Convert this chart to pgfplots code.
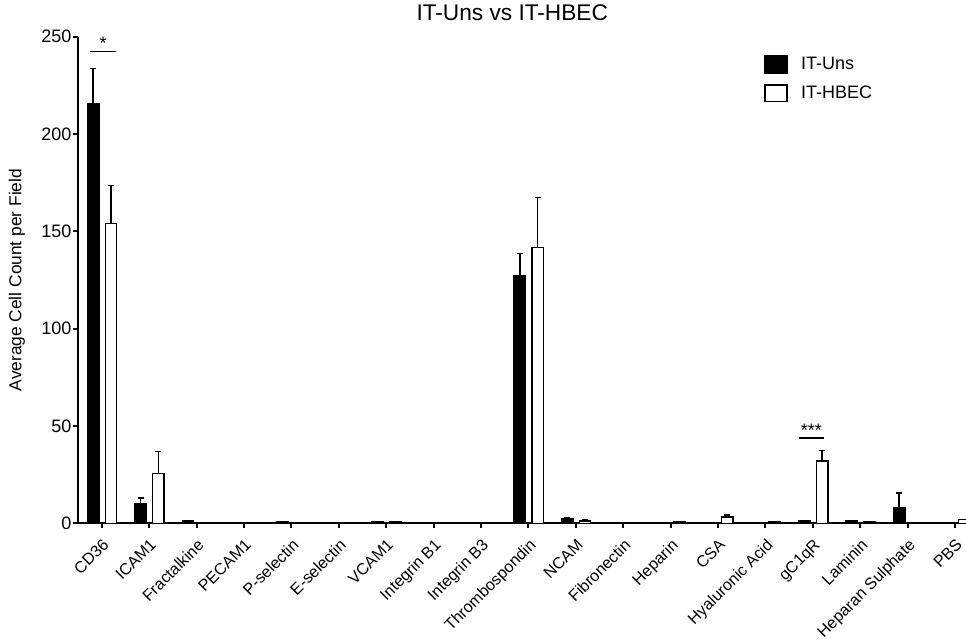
\documentclass[border=0pt]{standalone}
\usepackage{fontspec}
\setmainfont{Liberation Sans}
\usepackage{pgfplots}
\usepackage{pgfplotstable}
\pgfplotsset{compat=1.18}

% xu / xh: bar centres of IT-Uns and IT-HBEC within each category
\pgfplotstableread{
x xu xh u ue h he
0 -0.18 0.195 215.8 18.0 154.2 19.5
1 0.82 1.195 10.2 2.9 25.6 11.2
2 1.82 2.195 1.2 0 0.1 0
3 2.82 3.195 0.5 0 0.5 0
4 3.82 4.195 1.0 0 0.1 0
5 4.82 5.195 0.5 0 0.3 0
6 5.82 6.195 0.6 0 0.6 0
7 6.82 7.195 0.5 0 0.3 0
8 7.82 8.195 0.3 0 0.4 0
9 8.82 9.195 127.2 11.5 141.8 25.7
10 9.82 10.195 2.5 0.3 1.3 0.3
11 10.82 11.195 0.3 0 0.1 0
12 11.82 12.195 0.1 0 0.6 0
13 12.82 13.195 0.3 0 3.3 1.0
14 13.82 14.195 0.2 0 0.6 0
15 14.82 15.195 1.2 0 32.0 5.3
16 15.82 16.195 1.1 0 0.8 0
17 16.82 17.195 8.1 7.5 0.3 0
18 17.82 18.195 0.3 0 2.0 0
}\data

\pgfplotsset{
  mylegend/.style={legend image code/.code={\draw[##1,line width=1.1pt] (0pt,-6.3pt) rectangle (16.5pt,6.3pt); \path (24.5pt,0pt);}},
}

\begin{document}
\begin{tikzpicture}
\useasboundingbox (0,0) rectangle (724.5pt,480pt);
\begin{axis}[
  at={(58.5pt,87.5pt)}, anchor=south west,
  scale only axis, width=666pt, height=364.9pt,
  xmin=-0.5, xmax=18.23, ymin=0, ymax=250,
  axis x line*=bottom, axis y line*=left,
  axis line style={-, line width=1.5pt},
  every tick/.style={black, line width=1.5pt},
  tick align=outside, major tick length=3.75pt,
  xtick={0,...,18},
  xticklabels={CD36,ICAM1,Fractalkine,PECAM1,P-selectin,E-selectin,VCAM1,Integrin B1,Integrin B3,Thrombospondin,NCAM,Fibronectin,Heparin,CSA,Hyaluronic Acid,gC1qR,Laminin,Heparan Sulphate,PBS},
  xticklabel shift=7pt,
  xticklabel style={rotate=45, anchor=north east, inner sep=0pt, font=\fontsize{12.1}{14}\selectfont},
  ytick={0,50,...,250},
  yticklabel style={inner sep=1pt, font=\fontsize{13.5}{16}\selectfont},
  /pgf/number format/assume math mode=true,
  ylabel={Average Cell Count per Field},
  ylabel style={at={(axis description cs:-0.0687,0.5)}, anchor=center, font=\fontsize{13}{15}\selectfont},
  title={IT-Uns vs IT-HBEC},
  every axis title shift=0pt,
  title style={at={(axis description cs:0.489,1.0325)}, anchor=south, inner sep=0pt, font=\fontsize{17}{20}\selectfont},
  legend style={draw=none, fill=none, at={(axis description cs:0.7725,0.964)}, anchor=north west,
    font=\fontsize{13.5}{16}\selectfont, row sep=6.75pt, inner sep=0pt},
  legend cell align=left,
  every error bar/.append style={line width=1.1pt, black},
  clip mode=individual,
]
\addplot[ybar, mylegend, bar width=0.24, bar shift=0, fill=black, draw=black, line width=1.1pt,
  error bars/.cd, y dir=plus, y explicit,
  error bar style={line width=1.1pt, black},
  error mark options={rotate=90, line width=1.1pt, mark size=2.25pt, black}]
  table[x=xu, y=u, y error=ue] {\data};
\addlegendentry{IT-Uns}
\addplot[ybar, mylegend, bar width=0.24, bar shift=0, fill=white, draw=black, line width=1.1pt,
  error bars/.cd, y dir=plus, y explicit,
  error bar style={line width=1.1pt, black},
  error mark options={rotate=90, line width=1.1pt, mark size=2.25pt, black}]
  table[x=xh, y=h, y error=he] {\data};
\addlegendentry{IT-HBEC}
\draw[line width=1.1pt] (axis cs:-0.247,242.4) -- (axis cs:0.295,242.4);
\node[anchor=base, font=\fontsize{13.5}{16}\selectfont, inner sep=0pt] at (axis cs:0.03,243.3) {*};
\draw[line width=1.1pt] (axis cs:14.71,43.8) -- (axis cs:15.23,43.8);
\node[anchor=base, font=\fontsize{13.5}{16}\selectfont, inner sep=0pt] at (axis cs:14.97,44.6) {***};
\end{axis}
\end{tikzpicture}
\end{document}
